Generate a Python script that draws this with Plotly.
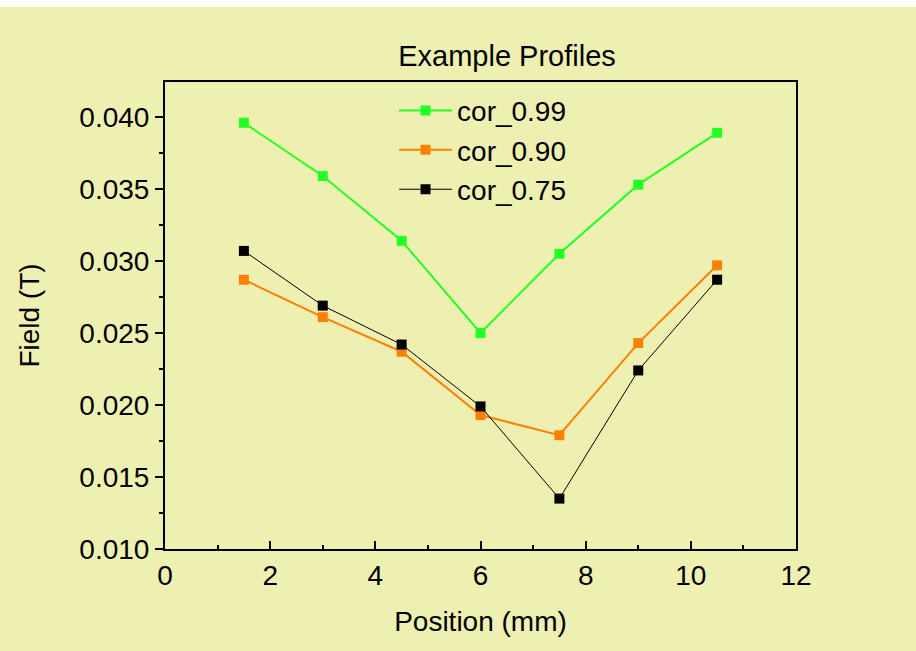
import plotly.graph_objects as go

positions = [1.5, 3, 4.5, 6, 7.5, 9, 10.5]
cor_099 = [0.0396, 0.0359, 0.0314, 0.0250, 0.0305, 0.0353, 0.0389]
cor_090 = [0.0287, 0.0261, 0.0237, 0.0193, 0.0179, 0.0243, 0.0297]
cor_075 = [0.0307, 0.0269, 0.0242, 0.0199, 0.0135, 0.0224, 0.0287]

series = [
    ("cor_0.99", cor_099, "#22FF22", 2),
    ("cor_0.90", cor_090, "#FF8000", 2),
    ("cor_0.75", cor_075, "#000000", 1),
]

BG = "#EEF0B1"
FONT = "Liberation Sans, Arial, sans-serif"
FS = 28

fig = go.Figure()
for name, ys, color, w in series:
    fig.add_trace(go.Scatter(
        x=positions, y=ys, name=name, mode="lines+markers",
        line=dict(color=color, width=w),
        marker=dict(symbol="square", size=10, color=color),
    ))

axis_common = dict(
    showgrid=False, zeroline=False, showline=True, linecolor="black", linewidth=2,
    mirror=True, ticklen=8, tickwidth=2, tickcolor="black",
    tickfont=dict(size=FS, color="black", family=FONT),
)

fig.update_xaxes(
    range=[0, 12], dtick=2, tick0=0, ticks="inside",
    minor=dict(dtick=1, ticks="inside", ticklen=4, tickwidth=2, tickcolor="black"),
    title=dict(text="Position (mm)", font=dict(size=FS, color="black", family=FONT), standoff=22),
    **axis_common,
)
fig.update_yaxes(
    range=[0.010, 0.04243], dtick=0.005, tick0=0.010, tickformat=".3f", ticks="outside",
    minor=dict(dtick=0.0025, ticks="outside", ticklen=4, tickwidth=2, tickcolor="black"),
    title=dict(text="Field (T)", font=dict(size=FS, color="black", family=FONT), standoff=32),
    **axis_common,
)

fig.update_layout(
    width=916, height=651,
    margin=dict(l=165, r=120, t=82, b=102),
    paper_bgcolor=BG, plot_bgcolor=BG,
    font=dict(family=FONT, color="black"),
    title=dict(text="Example Profiles", font=dict(size=29, color="black", family=FONT),
               x=0.542, xref="paper", xanchor="center", y=1 - 56 / 651, yref="container", yanchor="middle"),
    legend=dict(x=0.363, y=0.992, xanchor="left", yanchor="top", bgcolor="rgba(0,0,0,0)",
                font=dict(size=FS, color="black", family=FONT), itemwidth=53, tracegroupgap=0),
    showlegend=True,
    shapes=[dict(type="rect", xref="paper", yref="paper", x0=-1, x1=2,
                 y0=1 + 75 / 467, y1=1 + 90 / 467, fillcolor="white", line=dict(width=0), layer="below")],
)

fig.write_html("out.html")
